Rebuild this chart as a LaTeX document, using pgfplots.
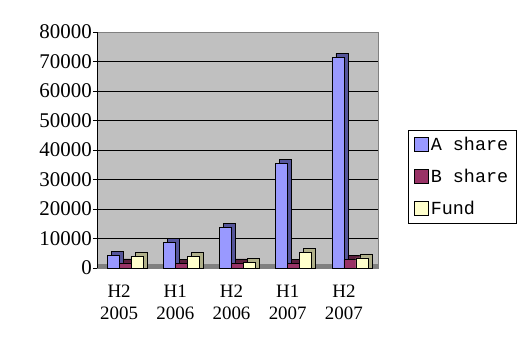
\documentclass[border=0pt]{standalone}
\usepackage{fontspec}
\setmainfont{Liberation Serif}
\newfontfamily\legfont{Liberation Mono}
\usepackage{pgfplots}
\usepackage{pgfplotstable}
\pgfplotsset{compat=1.18}
\definecolor{wall}{HTML}{C0C0C0}
\definecolor{floorc}{HTML}{808080}
\definecolor{ashare}{HTML}{9999FF}
\definecolor{asharedk}{HTML}{55559A}
\definecolor{bshare}{HTML}{993366}
\definecolor{bsharedk}{HTML}{5A1E3C}
\definecolor{fund}{HTML}{FFFFCC}
\definecolor{funddk}{HTML}{B0B08A}

\pgfplotstableread{
x A B F
0 4200 1700 3800
1 8800 1500 3800
2 13700 1700 2000
3 35500 1500 5200
4 71400 2900 3400
}\datatable

\begin{document}
\begin{tikzpicture}[x=1bp,y=1bp]
\useasboundingbox (-97,-84) rectangle (431,268);
\begin{axis}[
  at={(0,0)}, anchor=south west,
  scale only axis, width=281bp, height=236bp,
  xmin=-0.5, xmax=4.5, ymin=0, ymax=80000,
  axis background/.style={fill=wall},
  axis line style={floorc},
  ytick={0,10000,...,80000},
  ymajorgrids, grid style={black, line width=0.8pt},
  tick align=outside, ytick pos=left, major tick length=4bp,
  ytick style={black},
  scaled y ticks=false,
  /pgf/number format/assume math mode=true,
  yticklabel style={/pgf/number format/fixed, /pgf/number format/1000 sep={},
    font=\fontsize{21}{21}\selectfont, inner sep=0pt, xshift=-1bp},
  xtick={0,1,2,3,4},
  xticklabels={{H2\\2005},{H1\\2006},{H2\\2006},{H1\\2007},{H2\\2007}},
  xtick style={draw=none},
  xticklabel style={align=center, font=\fontsize{19}{22}\selectfont, inner sep=0pt, xshift=-6bp, yshift=-13bp},
  legend style={at={(1.1068,0.5847)}, anchor=north west, draw=black, fill=white,
    font=\legfont\fontsize{18.5}{18.5}\selectfont, inner xsep=6bp, inner ysep=5bp, row sep=13bp,
    cells={anchor=west}},
  legend image code/.code={\draw[#1, draw=black, line width=0.6pt] (0bp,-7bp) rectangle (14bp,7bp);},
]
\fill[floorc] (rel axis cs:0,0) rectangle ([yshift=4bp]rel axis cs:1,0);
\addplot[ybar, bar width=12bp, bar shift=-8bp, fill=asharedk, draw=black, line width=0.6pt, forget plot]
  table[x=x, y expr=\thisrow{A}+1356] {\datatable};
\addplot[ybar, bar width=12bp, bar shift=-12bp, fill=ashare, draw=black, line width=0.6pt]
  table[x=x, y=A] {\datatable};
\addlegendentry{A share}
\addplot[ybar, bar width=12bp, bar shift=4bp, fill=bsharedk, draw=black, line width=0.6pt, forget plot]
  table[x=x, y expr=\thisrow{B}+1356] {\datatable};
\addplot[ybar, bar width=12bp, bar shift=0bp, fill=bshare, draw=black, line width=0.6pt]
  table[x=x, y=B] {\datatable};
\addlegendentry{B share}
\addplot[ybar, bar width=12bp, bar shift=16bp, fill=funddk, draw=black, line width=0.6pt, forget plot]
  table[x=x, y expr=\thisrow{F}+1356] {\datatable};
\addplot[ybar, bar width=12bp, bar shift=12bp, fill=fund, draw=black, line width=0.6pt]
  table[x=x, y=F] {\datatable};
\addlegendentry{Fund}
\draw[black, line width=0.8pt] (rel axis cs:0,0) -- (rel axis cs:0,1);
\end{axis}
\end{tikzpicture}
\end{document}
